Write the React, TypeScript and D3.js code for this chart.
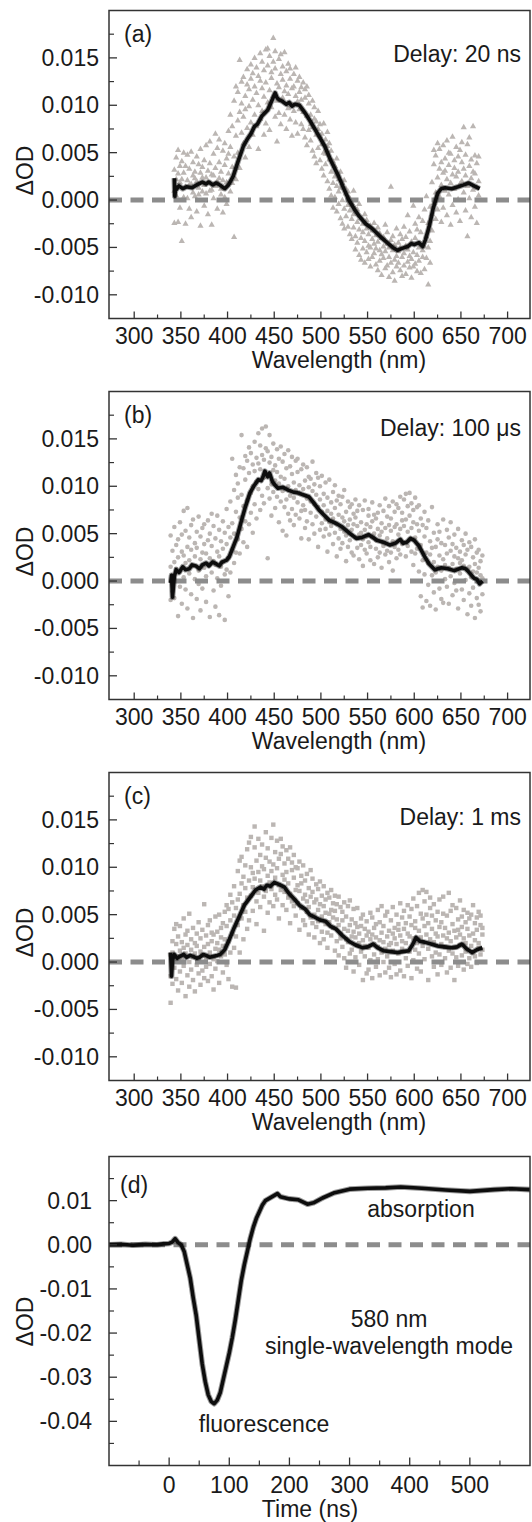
import React from 'react';
import * as d3 from 'd3';

const FONT = '"Liberation Sans", Arial, Helvetica, sans-serif';

// ---------- axis ticks ----------
const wlTicks = [300, 350, 400, 450, 500, 550, 600, 650, 700];
const wlMinor = [325, 375, 425, 475, 525, 575, 625, 675];
const odTicks = [0.015, 0.01, 0.005, 0, -0.005, -0.01];
const odTickLabels = ['0.015', '0.010', '0.005', '0.000', '-0.005', '-0.010'];
const odMinor = [0.0175, 0.0125, 0.0075, 0.0025, -0.0025, -0.0075];
const timeTicks = [0, 100, 200, 300, 400, 500];
const timeMinor = [-50, 50, 150, 250, 350, 450, 550];
const dTicks = [0.01, 0, -0.01, -0.02, -0.03, -0.04];
const dTickLabels = ['0.01', '0.00', '-0.01', '-0.02', '-0.03', '-0.04'];
const dMinor = [0.015, 0.005, -0.005, -0.015, -0.025, -0.035, -0.045];

// ---------- smoothed spectra (wavelength nm, ΔOD in units of 1e-3) ----------
const lineA: [number, number][] = [
  [343, 2.3], [343.5, 0.4], [344.5, 1.4], [345, 1.1], [348, 1.5], [352, 1.2], [356, 1.4], [362, 1.3], [367, 1.6],
  [373, 1.9], [377, 1.7], [380, 1.9], [384, 1.6], [388, 1.8], [393, 1.5], [397, 1.2], [401, 1.6],
  [406, 2.5], [411, 4.0], [417, 5.7], [421, 6.4], [425, 7.0], [429, 7.8], [432, 8.0], [437, 8.9], [443, 9.5],
  [447, 10.4], [451, 11.3], [453, 10.8], [455, 10.6], [459, 10.4], [463, 10.1], [466, 10.3], [469, 9.9],
  [472, 10.1], [477, 10.0], [483, 9.2], [490, 8.1], [497, 6.9], [504, 5.7], [511, 4.1], [519, 2.5],
  [525, 1.1], [530, 0.0], [536, -1.0], [541, -1.7], [548, -2.5], [556, -3.1], [563, -3.8], [571, -4.5],
  [577, -5.0], [582, -5.3], [587, -5.1], [593, -4.9], [597, -4.6], [600, -4.7], [605, -4.5], [609, -4.9],
  [612, -4.2], [616, -2.8], [620, -1.0], [625, 0.7], [629, 1.2], [633, 1.3], [640, 1.2], [647, 1.4],
  [653, 1.6], [658, 1.8], [664, 1.5], [670, 1.2],
];
const lineB: [number, number][] = [
  [339, -0.2], [340, 0.6], [341, -1.7], [343, 0.5], [345, 1.2], [348, 0.9], [352, 1.5], [355, 1.2], [359, 1.3],
  [362, 1.7], [366, 1.6], [370, 1.3], [373, 1.7], [377, 1.9], [380, 1.6], [384, 2.0], [388, 1.8], [391, 1.6],
  [394, 2.0], [399, 2.2], [402, 2.6], [406, 3.6], [410, 4.6], [415, 6.4], [419, 7.8], [424, 9.3], [428, 10.0],
  [433, 10.7], [436, 10.6], [438, 11.0], [440, 11.6], [443, 11.0], [445, 11.4], [448, 10.5], [451, 10.1],
  [454, 9.8], [459, 9.9], [465, 9.6], [470, 9.4], [476, 9.3], [481, 9.1], [487, 8.9], [492, 8.3], [498, 7.5],
  [503, 7.0], [509, 6.4], [516, 6.1], [523, 5.7], [530, 5.1], [538, 4.5], [544, 4.6], [551, 4.9], [556, 4.6],
  [560, 4.3], [567, 4.1], [574, 3.8], [580, 4.0], [585, 4.4], [588, 4.0], [592, 4.1], [596, 4.5], [600, 4.3],
  [605, 3.7], [611, 2.6], [616, 1.8], [622, 1.2], [629, 1.4], [636, 1.3], [643, 1.1], [651, 1.4], [655, 1.3],
  [658, 1.0], [664, 0.3], [667, 0.2], [670, -0.3], [673, 0.0],
];
const lineC: [number, number][] = [
  [339, 1.0], [340, -1.5], [341, 0.2], [343, 0.8], [346, 0.4], [349, 0.6], [353, 0.8], [356, 0.5], [360, 0.7],
  [363, 0.6], [367, 0.4], [370, 0.5], [374, 0.8], [377, 0.7], [381, 0.5], [385, 0.6], [389, 0.7], [392, 0.8],
  [397, 1.3], [402, 2.4], [407, 3.6], [413, 4.9], [418, 6.0], [424, 6.8], [430, 7.6], [435, 7.9], [439, 7.7],
  [442, 8.1], [446, 8.0], [450, 8.4], [455, 8.2], [461, 7.9], [466, 7.2], [472, 6.6], [477, 6.0], [483, 5.6],
  [488, 5.0], [494, 4.7], [500, 4.4], [505, 4.3], [510, 3.8], [516, 3.5], [523, 2.8], [530, 2.2], [537, 1.8],
  [545, 1.5], [550, 1.6], [556, 1.9], [561, 1.5], [567, 1.2], [574, 1.1], [582, 1.0], [588, 1.1], [594, 1.2],
  [598, 1.8], [602, 2.6], [606, 2.2], [611, 2.1], [618, 1.9], [625, 1.7], [632, 1.6], [640, 1.5], [646, 1.6],
  [651, 1.9], [656, 1.4], [662, 1.0], [667, 1.3], [673, 1.5],
];

// ---------- raw spectra scatter: [wavelength, three ΔOD readings in 1e-3] ----------
const scatterA: number[][] = [
  [343, 3.2, -2.4, 1.0], [345, 4.5, 0.5, 2.2], [347, -2.3, 2.8, 5.3], [349, 1.9, -0.8, 3.6], [351, 4.1, -4.3, 2.2],
  [353, 0.3, 5.0, 2.9], [355, 3.6, -2.5, 1.4], [357, 2.1, 4.8, 0.2], [359, -0.9, 3.3, 1.6], [361, 5.1, 1.7, -1.8],
  [363, 2.6, 4.0, 0.8], [365, 0.4, 3.0, 2.3], [367, 4.6, -1.2, 2.0], [369, 1.3, 3.8, 0.6], [371, -2.7, 5.4, 2.9],
  [373, 0.9, 3.5, 2.4], [375, 4.2, 1.6, -0.6], [377, 2.4, 5.8, 0.7], [379, -1.5, 3.1, 1.9], [381, 6.2, 1.0, 3.9],
  [383, 2.7, -2.6, 1.1], [385, 4.9, 0.2, 2.6], [387, 7.0, 3.4, 1.5], [389, 5.5, -0.9, 2.0], [391, 2.3, 6.4, 4.0],
  [393, 0.6, 3.0, 1.2], [395, 5.2, -1.3, 2.1], [397, 3.7, 6.0, 0.3], [399, -0.4, 4.4, 1.9], [401, 7.3, 2.8, 4.9],
  [403, 5.6, 0.9, 9.0], [405, 3.5, 7.8, 1.8], [407, -3.9, 10.5, 4.6], [409, 12.0, 6.8, 2.2], [411, 8.4, 11.4, 5.0],
  [413, 14.8, 9.3, 3.4], [415, 12.5, 7.1, 10.2], [417, 6.0, 13.0, 8.8], [419, 11.0, 4.5, 9.6], [421, 13.8, 7.6, 12.2],
  [423, 9.9, 5.6, 11.7], [425, 14.3, 8.2, 12.8], [427, 10.6, 6.9, 13.4], [429, 15.0, 9.0, 12.0], [431, 7.8, 11.3, 14.0],
  [433, 13.1, 10.0, 5.4], [435, 15.5, 8.6, 12.6], [437, 11.8, 14.6, 9.4], [439, 6.9, 13.7, 10.9], [441, 15.9, 12.4, 8.1],
  [443, 14.2, 10.3, 16.0], [445, 11.6, 15.2, 7.4], [447, 13.5, 9.8, 12.9], [449, 17.1, 11.0, 14.6], [451, 8.8, 13.9, 15.7],
  [453, 12.3, 10.5, 6.2], [455, 14.9, 11.9, 9.2], [457, 15.4, 8.0, 13.3], [459, 10.8, 12.7, 14.1], [461, 9.0, 15.6, 11.5],
  [463, 13.6, 7.5, 12.1], [465, 11.2, 14.4, 9.7], [467, 12.8, 8.5, 13.9], [469, 10.1, 11.8, 6.8], [471, 13.3, 9.4, 12.0],
  [473, 8.2, 11.0, 14.0], [475, 12.6, 10.4, 7.0], [477, 9.6, 13.0, 11.4], [479, 11.9, 8.0, 10.6], [481, 7.5, 12.4, 9.3],
  [483, 10.8, 6.6, 11.7], [485, 8.9, 12.0, 5.8], [487, 10.2, 7.4, 11.1], [489, 6.3, 9.0, 8.0], [491, 10.5, 5.2, 7.7],
  [493, 8.6, 4.6, 9.8], [495, 6.9, 8.3, 3.9], [497, 7.5, 5.5, 9.4], [499, 4.2, 6.8, 8.0], [501, 7.0, 3.3, 5.9],
  [503, 5.0, 8.1, 2.6], [505, 6.4, 3.8, 4.9], [507, 2.0, 5.7, 7.2], [509, 4.3, 1.2, 6.0], [511, 3.0, 5.2, 0.5],
  [513, 1.8, 4.1, -0.8], [515, 3.6, 0.3, 2.5], [517, -1.2, 1.5, 4.4], [519, 2.2, -0.4, 0.9], [521, -1.9, 1.3, 3.0],
  [523, 0.0, -2.5, 1.8], [525, -0.9, 2.1, -3.0], [527, 0.7, -1.7, 1.2], [529, -2.8, -0.5, 0.9], [531, -1.1, -3.6, 0.2],
  [533, -2.0, -0.3, -4.1], [535, 1.0, -2.9, -1.5], [537, -3.8, -0.9, -5.2], [539, -2.3, -4.5, -1.0], [541, -5.8, -3.1, -0.4],
  [543, -1.9, -4.0, -6.3], [545, -3.4, -5.1, -2.5], [547, -6.6, -1.5, -4.3], [549, -3.0, -5.5, -2.1], [551, -4.8, -6.2, -3.6],
  [553, -2.7, -5.0, -7.0], [555, -4.1, -3.2, -6.0], [557, -5.6, -2.4, -4.6], [559, -3.7, -6.8, -5.1], [561, -7.4, -4.4, -2.9],
  [563, -5.3, -3.5, -6.4], [565, -4.0, -7.9, -5.7], [567, -6.1, -3.9, -4.9], [569, -2.6, -5.4, -7.2], [571, -6.9, -4.6, -3.4],
  [573, -5.0, -8.1, -6.0], [575, 1.4, -4.2, -6.6], [577, -7.6, -5.3, -3.8], [579, -4.7, -6.3, -8.5], [581, -5.9, -3.0, -7.0],
  [583, -6.6, -4.5, -5.4], [585, -3.6, -7.4, -5.0], [587, -6.0, -4.1, -8.0], [589, -2.8, -5.6, -6.9], [591, -7.8, -4.8, -3.9],
  [593, -5.2, -6.5, -1.6], [595, -3.3, -7.1, -5.9], [597, -6.2, -4.4, -8.2], [599, -0.6, -5.5, -7.0], [601, -4.0, -6.7, -2.5],
  [603, -7.5, -3.1, -5.8], [605, -5.0, -1.8, -6.4], [607, -3.4, -7.7, -4.6], [609, -6.0, -2.2, -5.3], [611, -1.0, -4.9, -7.3],
  [613, -3.8, -6.1, 0.4], [615, -2.4, -8.9, -5.0], [617, -4.3, -0.7, -6.6], [619, 1.9, -3.2, -1.5], [621, 3.8, -0.3, 5.3],
  [623, 0.8, 4.7, -2.0], [625, 6.0, 2.4, -1.0], [627, 3.3, 5.4, 0.4], [629, -2.3, 4.0, 1.6], [631, 5.8, 2.9, -0.8],
  [633, 1.0, 4.4, 3.1], [635, 6.3, -1.6, 2.2], [637, 3.7, 0.6, 5.0], [639, -2.6, 4.9, 1.8], [641, 2.7, 6.7, -0.5],
  [643, 4.2, 1.2, 3.4], [645, -1.3, 5.6, 2.5], [647, 3.0, 0.1, 4.6], [649, 5.3, -2.2, 1.7], [651, 2.0, 4.0, 6.1],
  [653, 7.7, 0.8, 3.3], [655, -1.1, 4.8, 2.6], [657, 5.9, 1.5, -3.8], [659, 3.6, 6.6, 0.2], [661, 2.3, -1.8, 4.3],
  [663, 7.8, 3.0, 1.1], [665, -0.7, 4.7, 2.8], [667, 3.9, -2.4, 1.3], [669, 4.6, 0.5, 2.0],
];
const scatterB: number[][] = [
  [339, -2.0, 1.5, 4.8], [341, 0.6, -1.1, 3.2], [343, 5.7, 2.0, -1.8], [345, 1.3, 3.8, 0.0], [347, -3.7, 4.4, 2.5],
  [349, 1.0, 6.2, -0.6], [351, 3.1, -2.4, 4.9], [353, 0.4, 2.7, 7.4], [355, 5.3, -0.9, 1.9], [357, 3.6, 7.7, -2.9],
  [359, 2.2, 0.8, 4.6], [361, -1.4, 3.3, 5.9], [363, 6.5, 1.6, -3.9], [365, 0.2, 4.0, 2.6], [367, 3.5, -1.9, 5.2],
  [369, 1.1, 6.8, -0.3], [371, 4.7, 2.3, -3.1], [373, -0.8, 3.0, 5.6], [375, 6.0, 1.4, 3.9], [377, 2.9, -2.2, 0.5],
  [379, 4.3, 6.4, 1.8], [381, -3.8, 2.4, 5.0], [383, 0.9, 3.7, 7.1], [385, 5.8, -1.0, 2.1], [387, 1.7, 4.5, -2.7],
  [389, 6.9, 3.1, 0.3], [391, 2.6, -3.6, 5.4], [393, -0.5, 4.2, 1.5], [395, 6.3, 2.0, 3.4], [397, -4.1, 0.7, 5.1],
  [399, 3.9, 7.6, 1.2], [401, 2.4, 5.7, -1.6], [403, 8.4, 0.9, 4.6], [405, 12.9, 3.3, 6.1], [407, 1.9, 9.6, 5.0],
  [409, 7.3, 11.2, 3.0], [411, 4.4, 8.8, 10.3], [413, 6.7, 12.0, 2.9], [415, 15.4, 9.1, 5.5], [417, 7.9, 11.9, 4.1],
  [419, 10.7, 6.3, 13.2], [421, 8.5, 12.7, 3.6], [423, 11.4, 6.0, 14.1], [425, 9.3, 13.5, 7.2], [427, 12.3, 10.0, 5.1],
  [429, 14.7, 8.1, 11.6], [431, 10.5, 13.0, 6.6], [433, 15.6, 9.7, 12.4], [435, 11.8, 7.5, 14.3], [437, 16.1, 13.3, 9.0],
  [439, 10.9, 12.8, 8.2], [441, 16.3, 11.1, 14.0], [443, 9.8, 13.7, 2.4], [445, 12.5, 15.4, 8.7], [447, 10.2, 13.1, 6.9],
  [449, 11.7, 14.5, 9.4], [451, 7.7, 12.2, 10.6], [453, 13.9, 8.9, 11.5], [455, 6.2, 10.3, 12.9], [457, 11.0, 8.4, 14.2],
  [459, 9.5, 12.6, 5.3], [461, 13.4, 7.8, 10.8], [463, 8.6, 11.9, 4.8], [465, 10.0, 13.8, 7.1], [467, 12.1, 9.0, 6.4],
  [469, 7.6, 11.3, 13.1], [471, 10.4, 5.9, 8.8], [473, 12.7, 9.6, 7.0], [475, 8.3, 11.5, 12.9], [477, 6.6, 10.1, 9.2],
  [479, 11.8, 7.4, 4.5], [481, 9.7, 12.3, 8.0], [483, 5.6, 10.6, 7.5], [485, 12.0, 8.7, 6.3], [487, 9.9, 4.4, 11.0],
  [489, 7.2, 10.8, 8.4], [491, 12.6, 6.0, 9.5], [493, 8.1, 10.2, 5.0], [495, 6.8, 9.1, 11.4], [497, 10.9, 7.8, 3.6],
  [499, 5.4, 8.6, 10.0], [501, 7.3, 11.1, 6.1], [503, 9.2, 4.7, 8.0], [505, 6.5, 10.4, 5.5], [507, 8.8, 3.1, 7.4],
  [509, 10.7, 6.2, 4.9], [511, 5.8, 8.3, 7.1], [513, 3.9, 9.4, 6.6], [515, 7.7, 5.1, 10.1], [517, 6.0, 8.5, 2.6],
  [519, 4.5, 7.0, 9.0], [521, 8.1, 5.5, 3.4], [523, 6.7, 4.0, 8.9], [525, 5.2, 9.6, 6.3], [527, 2.1, 7.3, 4.8],
  [529, 8.4, 5.9, 3.6], [531, 6.5, 4.3, 7.8], [533, 3.0, 8.1, 5.4], [535, 7.1, 2.7, 6.0], [537, 4.6, 6.7, 8.6],
  [539, 5.8, 3.5, 7.4], [541, 8.0, 4.9, 2.3], [543, 3.8, 6.2, 5.1], [545, 7.5, 4.4, 1.6], [547, 5.4, 8.5, 3.3],
  [549, 2.9, 6.0, 4.7], [551, 6.9, 4.1, 7.6], [553, 3.6, 5.7, 2.2], [555, 8.3, 4.6, 6.3], [557, 5.0, 1.8, 7.0],
  [559, 3.4, 6.6, 4.3], [561, 7.2, 2.5, 5.5], [563, 4.8, 8.0, 3.0], [565, 6.1, 1.4, 5.2], [567, 3.7, 7.4, 4.0],
  [569, 5.6, 2.8, 8.7], [571, 4.5, 6.8, 3.2], [573, 7.9, 2.0, 5.9], [575, 3.0, 5.3, 6.6], [577, 8.4, 4.2, 1.1],
  [579, 5.7, 7.3, 3.6], [581, 2.4, 6.0, 8.1], [583, 4.9, 7.7, 3.3], [585, 8.9, 5.5, 2.8], [587, 6.4, 3.9, 7.2],
  [589, 4.1, 8.6, 5.8], [591, 9.2, 2.6, 6.5], [593, 5.2, 7.9, 3.7], [595, 6.9, 4.4, 9.3], [597, 3.1, 8.2, 5.6],
  [599, 7.5, 1.7, 6.2], [601, 4.6, 8.8, 2.9], [603, 6.0, 3.4, 7.8], [605, 1.0, 5.3, 8.0], [607, 3.8, -1.6, 6.6],
  [609, 5.9, 2.2, -2.8], [611, 0.7, 4.7, 7.3], [613, -2.1, 3.0, 5.6], [615, 1.9, 6.4, -0.4], [617, 4.2, -2.6, 2.8],
  [619, 7.8, 0.6, 3.5], [621, -1.2, 5.1, 2.0], [623, 3.6, -3.0, 0.9], [625, 6.0, 1.5, 4.4], [627, -0.8, 2.7, 5.2],
  [629, 4.0, -1.9, 1.1], [631, 2.3, 6.5, -2.3], [633, 0.2, 3.8, 1.7], [635, 5.4, -0.6, 2.9], [637, -2.4, 1.4, 4.6],
  [639, 3.2, 0.5, 6.2], [641, 1.8, -1.5, 3.9], [643, 4.9, 2.6, -0.2], [645, -1.0, 3.5, 1.3], [647, 2.4, 5.5, -2.9],
  [649, 0.8, 3.1, 1.9], [651, 4.3, -0.9, 2.2], [653, -2.0, 1.6, 3.8], [655, 2.8, 0.1, 5.0], [657, -3.5, 3.3, 1.2],
  [659, 1.5, -1.3, 4.1], [661, 3.6, 0.4, -2.6], [663, -0.7, 2.5, 1.0], [665, 4.4, -3.9, 1.8], [667, 0.9, 3.0, -1.8],
  [669, -2.5, 1.4, 3.3], [671, 2.1, -3.2, 0.6], [673, 0.3, -1.4, 2.7],
];
const scatterC: number[][] = [
  [339, -4.3, 0.8, -1.5], [341, 2.2, -2.3, 1.0], [343, 3.5, -0.6, 0.3], [345, -1.8, 1.9, 4.0], [347, 0.6, -3.0, 2.7],
  [349, 3.8, 1.2, -1.0], [351, -2.2, 0.4, 2.1], [353, 1.5, 4.6, -0.4], [355, -3.6, 2.9, 0.9], [357, 1.8, -1.4, 3.3],
  [359, 5.1, 0.0, -2.6], [361, 2.4, -0.8, 1.3], [363, -1.9, 3.6, 0.5], [365, 0.9, 2.0, -3.1], [367, 3.0, -0.3, 1.7],
  [369, -1.2, 4.2, 0.2], [371, 2.5, -2.4, 1.1], [373, 0.7, 3.4, -0.9], [375, 6.1, 1.6, -1.7], [377, -0.5, 2.8, 0.4],
  [379, 3.9, -2.0, 1.9], [381, 1.0, 4.4, -0.2], [383, -1.5, 2.2, 3.1], [385, 2.9, 0.3, -2.9], [387, 4.8, 1.4, -0.7],
  [389, 0.1, 3.2, 2.0], [391, -2.2, 5.0, 1.3], [393, 3.6, 0.6, 2.6], [395, 1.7, 4.1, -1.1], [397, 5.3, 2.4, 0.8],
  [399, -0.3, 3.8, 6.0], [401, 2.2, 5.6, -1.8], [403, 4.4, 1.0, 7.1], [405, 6.3, 3.0, -2.6], [407, 1.5, 8.0, 4.9],
  [409, 5.7, 2.7, -2.7], [411, 9.6, 3.9, 6.6], [413, 7.2, 10.7, 1.0], [415, 4.6, 8.3, 11.1], [417, 9.0, 6.0, 2.4],
  [419, 7.8, 10.2, 5.3], [421, 11.9, 6.8, 3.5], [423, 8.6, 4.4, 12.6], [425, 10.0, 7.0, 13.2], [427, 5.4, 9.4, 7.9],
  [429, 12.1, 8.8, 14.3], [431, 6.4, 10.7, 4.0], [433, 9.5, 13.0, 7.3], [435, 11.3, 5.8, 8.6], [437, 8.0, 12.4, 10.1],
  [439, 6.9, 9.8, 3.3], [441, 13.7, 7.5, 11.0], [443, 9.1, 5.2, 12.0], [445, 10.6, 8.4, 6.3], [447, 7.7, 13.1, 9.6],
  [449, 14.5, 10.3, 5.9], [451, 8.9, 11.6, 7.1], [453, 12.8, 6.6, 9.9], [455, 4.6, 10.9, 8.1], [457, 11.4, 7.6, 13.0],
  [459, 9.2, 12.2, 6.0], [461, 7.4, 10.4, 8.7], [463, 11.8, 5.5, 9.5], [465, 8.3, 10.9, 6.8], [467, 12.1, 7.2, 4.1],
  [469, 9.7, 6.4, 10.5], [471, 5.9, 8.9, 11.3], [473, 10.0, 7.6, 4.9], [475, 8.1, 9.9, 6.2], [477, 3.4, 7.5, 10.6],
  [479, 9.1, 5.7, 8.3], [481, 6.7, 10.2, 4.4], [483, 8.6, 3.9, 7.1], [485, 5.3, 9.3, 6.4], [487, 7.8, 2.9, 5.8],
  [489, 9.7, 6.9, 4.7], [491, 4.1, 7.4, 8.8], [493, 6.3, 5.0, 2.6], [495, 8.2, 3.7, 6.6], [497, 5.5, 7.7, 4.3],
  [499, 2.0, 6.1, 8.5], [501, 7.0, 4.8, 3.2], [503, 5.9, 8.0, 2.4], [505, 4.0, 6.6, 5.2], [507, 7.3, 3.1, 1.5],
  [509, 5.1, 6.8, 4.2], [511, 2.8, 7.6, 5.5], [513, 6.2, 3.6, 4.7], [515, 1.2, 5.4, 7.0], [517, 4.5, 2.2, 6.1],
  [519, 6.9, 3.9, 0.7], [521, 3.0, 5.8, 2.5], [523, 5.3, 1.6, 4.4], [525, 0.4, 3.5, 6.3], [527, 4.8, 2.4, -0.6],
  [529, 2.1, 5.9, 3.3], [531, 3.9, 0.9, 6.5], [533, 1.3, 4.5, 2.7], [535, 5.6, -1.0, 3.2], [537, 2.6, 4.1, 0.5],
  [539, 3.7, 1.8, 5.7], [541, -0.3, 3.0, 2.0], [543, 4.6, 1.1, 3.8], [545, 2.3, -1.9, 5.0], [547, 3.5, 0.6, 1.7],
  [549, -1.2, 4.3, 2.8], [551, 1.5, 3.2, -0.8], [553, 5.2, 0.2, 2.4], [555, 2.9, 4.7, -1.7], [557, 0.8, 3.6, 1.9],
  [559, 4.0, -0.5, 2.6], [561, 1.6, 5.5, 0.3], [563, -1.4, 2.3, 4.2], [565, 3.1, 1.0, 5.9], [567, 0.0, 3.8, 2.1],
  [569, 4.9, -1.1, 1.4], [571, 2.7, 5.3, 0.6], [573, -0.6, 3.3, 1.8], [575, 4.4, 2.0, -1.6], [577, 1.2, 5.8, 3.0],
  [579, 3.6, -0.2, 2.5], [581, 5.0, 1.9, -1.3], [583, 0.9, 4.0, 3.4], [585, 2.8, 6.2, -0.9], [587, 4.7, 1.4, 2.2],
  [589, -1.5, 3.5, 5.4], [591, 2.0, 0.4, 4.1], [593, 6.0, 3.0, -0.4], [595, 1.1, 4.8, 2.7], [597, 3.9, -1.7, 5.6],
  [599, 0.2, 2.5, 6.7], [601, 4.3, 1.3, 3.6], [603, -0.7, 5.9, 2.0], [605, 3.3, 7.3, 0.9], [607, 5.1, 2.6, -1.0],
  [609, 1.7, 4.6, 7.6], [611, 6.4, 0.3, 3.8], [613, 2.9, 7.4, 5.0], [615, -1.9, 4.1, 1.4], [617, 5.7, 2.4, 6.8],
  [619, 3.5, 0.6, 4.9], [621, 6.1, 2.1, -0.5], [623, 1.0, 4.4, 3.0], [625, 5.3, -1.3, 2.7], [627, 3.7, 6.6, 0.8],
  [629, 1.9, 4.2, -0.3], [631, 6.9, 2.8, 5.1], [633, 0.4, 3.6, 1.6], [635, 4.9, -1.1, 2.5], [637, 7.3, 3.1, 1.2],
  [639, 2.2, 5.4, -0.6], [641, 4.0, 0.9, 6.0], [643, 1.5, 3.3, -1.9], [645, 5.7, 2.6, 0.5], [647, 3.4, -0.4, 4.5],
  [649, 6.5, 1.8, 2.9], [651, 0.7, 4.8, 3.7], [653, 2.5, 5.5, -0.8], [655, 4.2, 1.1, 2.0], [657, -0.2, 3.5, 5.2],
  [659, 2.8, 0.4, 4.6], [661, 5.0, 1.7, -0.5], [663, 3.0, 6.0, 1.0], [665, 0.6, 2.3, 4.1], [667, 4.7, -0.1, 3.4],
  [669, 2.0, 5.3, 1.5], [671, 3.9, 0.8, 4.9], [673, 1.3, 2.9, 3.6],
];

// ---------- kinetic trace at 580 nm (time ns, ΔOD in 1e-3) ----------
const traceD: [number, number][] = [
  [-100, 0.0], [-80, 0.1], [-60, -0.1], [-40, 0.1], [-20, 0.0], [-10, 0.2], [0, 0.3], [5, 0.6], [10, 1.4],
  [15, 0.5], [20, 0.0], [25, -1.5], [30, -4.5], [35, -7.5], [40, -12.0], [45, -16.0], [50, -21.5],
  [55, -27.0], [60, -31.0], [65, -34.0], [70, -35.5], [75, -36.0], [80, -35.2], [85, -33.5], [90, -30.5],
  [95, -27.5], [100, -24.5], [105, -21.0], [110, -17.0], [115, -12.5], [120, -8.0], [125, -4.5],
  [130, -1.5], [135, 1.5], [140, 4.0], [145, 6.0], [150, 7.5], [155, 9.0], [160, 10.0], [170, 10.8],
  [180, 11.6], [185, 10.9], [200, 10.4], [215, 10.2], [230, 9.2], [240, 9.5], [255, 10.6], [275, 11.8],
  [300, 12.6], [330, 12.8], [360, 12.9], [385, 13.1], [420, 12.8], [460, 12.4], [500, 12.1], [540, 12.5],
  [570, 12.7], [600, 12.5],
];

// ---------- layout ----------
const W = 532;
const H = 1522;
const PL = 109;
const PR = 530;
const PH = 308;
const TEXT = '#1a1a1a';
const FRAME = '#333';
const SCAT = '#bbb6b3';
const DASH = '#8c8c8c';

type Marker = 'tri' | 'circle' | 'square';

interface SpecPanel {
  top: number;
  tag: string;
  delay: string;
  delayDy: number;
  line: [number, number][];
  scatter: number[][];
  marker: Marker;
}

const specPanels: SpecPanel[] = [
  { top: 10.5, tag: '(a)', delay: 'Delay: 20 ns', delayDy: 51.5, line: lineA, scatter: scatterA, marker: 'tri' },
  { top: 391.5, tag: '(b)', delay: 'Delay: 100 μs', delayDy: 44, line: lineB, scatter: scatterB, marker: 'circle' },
  { top: 772.5, tag: '(c)', delay: 'Delay: 1  ms', delayDy: 52.5, line: lineC, scatter: scatterC, marker: 'square' },
];

function markerEl(m: Marker, x: number, y: number, k: string) {
  if (m === 'tri') {
    return <path key={k} d={`M${x},${y - 3.4}L${x + 3.1},${y + 2.1}L${x - 3.1},${y + 2.1}Z`} fill={SCAT} />;
  }
  if (m === 'circle') return <circle key={k} cx={x} cy={y} r={2.3} fill={SCAT} />;
  return <rect key={k} x={x - 2.2} y={y - 2.2} width={4.4} height={4.4} fill={SCAT} />;
}

function DataLine({ d }: { d: string }) {
  return (
    <g>
      <path d={d} fill="none" stroke="#222" strokeOpacity={0.45} strokeWidth={5.6} strokeLinejoin="round" />
      <path d={d} fill="none" stroke="#0d0d0d" strokeWidth={3.6} strokeLinejoin="round" />
    </g>
  );
}

function SpectrumPanel({ p }: { p: SpecPanel }) {
  const x = d3.scaleLinear().domain([273, 724]).range([PL, PR]);
  const y = d3.scaleLinear().domain([-0.0125, 0.02]).range([p.top + PH, p.top]);
  const bottom = p.top + PH;
  const lineGen = d3
    .line<[number, number]>()
    .x((d) => x(d[0]))
    .y((d) => y(d[1] / 1000));
  const pts: React.ReactNode[] = [];
  p.scatter.forEach((c, i) => {
    for (let j = 1; j < c.length; j++) pts.push(markerEl(p.marker, x(c[0]), y(c[j] / 1000), `${i}-${j}`));
  });
  return (
    <g>
      <defs>
        <clipPath id={`clip-${p.tag}`}>
          <rect x={PL} y={p.top} width={PR - PL} height={PH} />
        </clipPath>
      </defs>
      <g clipPath={`url(#clip-${p.tag})`}>
        {pts}
        <line x1={PL} x2={PR} y1={y(0)} y2={y(0)} stroke={DASH} strokeWidth={5} strokeDasharray="13 8.5" />
        <DataLine d={lineGen(p.line) || ''} />
      </g>
      <rect x={PL} y={p.top} width={PR - PL} height={PH} fill="none" stroke={FRAME} strokeWidth={1.5} />
      {odTicks.map((t, i) => (
        <g key={`yt${i}`}>
          <line x1={PL} x2={PL + 8} y1={y(t)} y2={y(t)} stroke={FRAME} strokeWidth={1.3} />
          <text x={PL - 10} y={y(t) + 8} textAnchor="end" fontSize={23} fill={TEXT}>{odTickLabels[i]}</text>
        </g>
      ))}
      {odMinor.map((t, i) => (
        <line key={`ym${i}`} x1={PL} x2={PL + 5} y1={y(t)} y2={y(t)} stroke={FRAME} strokeWidth={1.2} />
      ))}
      {wlTicks.map((t, i) => (
        <g key={`xt${i}`}>
          <line x1={x(t)} x2={x(t)} y1={bottom} y2={bottom - 7} stroke={FRAME} strokeWidth={1.3} />
          <text x={x(t)} y={bottom + 25} textAnchor="middle" fontSize={23} fill={TEXT}>{t}</text>
        </g>
      ))}
      {wlMinor.map((t, i) => (
        <line key={`xm${i}`} x1={x(t)} x2={x(t)} y1={bottom} y2={bottom - 4} stroke={FRAME} strokeWidth={1.2} />
      ))}
      <text x={339} y={bottom + 49} textAnchor="middle" fontSize={23} fill={TEXT}>Wavelength (nm)</text>
      <text transform={`translate(33,${p.top + 160}) rotate(-90)`} textAnchor="middle" fontSize={23} fill={TEXT}>ΔOD</text>
      <text x={124} y={p.top + 31.5} fontSize={23} fill={TEXT}>{p.tag}</text>
      <text x={521} y={p.top + p.delayDy} textAnchor="end" fontSize={23} fill={TEXT}>{p.delay}</text>
    </g>
  );
}

function KineticPanel() {
  const top = 1156.5;
  const ph = 309;
  const bottom = top + ph;
  const x = d3.scaleLinear().domain([-100, 600]).range([PL, PR]);
  const y = d3.scaleLinear().domain([-0.05, 0.02]).range([bottom, top]);
  const lineGen = d3
    .line<[number, number]>()
    .x((d) => x(d[0]))
    .y((d) => y(d[1] / 1000));
  return (
    <g>
      <defs>
        <clipPath id="clip-d">
          <rect x={PL} y={top} width={PR - PL} height={ph} />
        </clipPath>
      </defs>
      <g clipPath="url(#clip-d)">
        <line x1={PL} x2={PR} y1={y(0)} y2={y(0)} stroke={DASH} strokeWidth={5} strokeDasharray="13 8.5" />
        <DataLine d={lineGen(traceD) || ''} />
      </g>
      <rect x={PL} y={top} width={PR - PL} height={ph} fill="none" stroke={FRAME} strokeWidth={1.5} />
      {dTicks.map((t, i) => (
        <g key={`yt${i}`}>
          <line x1={PL} x2={PL + 8} y1={y(t)} y2={y(t)} stroke={FRAME} strokeWidth={1.3} />
          <text x={PL - 17} y={y(t) + 8} textAnchor="end" fontSize={23} fill={TEXT}>{dTickLabels[i]}</text>
        </g>
      ))}
      {dMinor.map((t, i) => (
        <line key={`ym${i}`} x1={PL} x2={PL + 5} y1={y(t)} y2={y(t)} stroke={FRAME} strokeWidth={1.2} />
      ))}
      {timeTicks.map((t, i) => (
        <g key={`xt${i}`}>
          <line x1={x(t)} x2={x(t)} y1={bottom} y2={bottom - 8} stroke={FRAME} strokeWidth={1.3} />
          <text x={x(t)} y={bottom + 27} textAnchor="middle" fontSize={23} fill={TEXT}>{t}</text>
        </g>
      ))}
      {timeMinor.map((t, i) => (
        <line key={`xm${i}`} x1={x(t)} x2={x(t)} y1={bottom} y2={bottom - 5} stroke={FRAME} strokeWidth={1.2} />
      ))}
      <text x={310} y={bottom + 51} textAnchor="middle" fontSize={23} fill={TEXT}>Time (ns)</text>
      <text transform={`translate(33,${top + 165}) rotate(-90)`} textAnchor="middle" fontSize={23} fill={TEXT}>ΔOD</text>
      <text x={120} y={top + 36} fontSize={23} fill={TEXT}>(d)</text>
      <text x={421} y={top + 60} textAnchor="middle" fontSize={23} fill={TEXT}>absorption</text>
      <text x={389} y={top + 170} textAnchor="middle" fontSize={23} fill={TEXT}>580 nm</text>
      <text x={389} y={top + 197} textAnchor="middle" fontSize={23} fill={TEXT}>single-wavelength mode</text>
      <text x={264} y={top + 275} textAnchor="middle" fontSize={23} fill={TEXT}>fluorescence</text>
    </g>
  );
}

export default function App() {
  return (
    <svg
      width={W}
      height={H}
      viewBox={`0 0 ${W} ${H}`}
      style={{ position: 'absolute', left: 0, top: 0, background: '#fff' }}
      fontFamily={FONT}
    >
      <rect x={0} y={0} width={W} height={H} fill="#fff" />
      {specPanels.map((p) => (
        <SpectrumPanel key={p.tag} p={p} />
      ))}
      <KineticPanel />
    </svg>
  );
}
